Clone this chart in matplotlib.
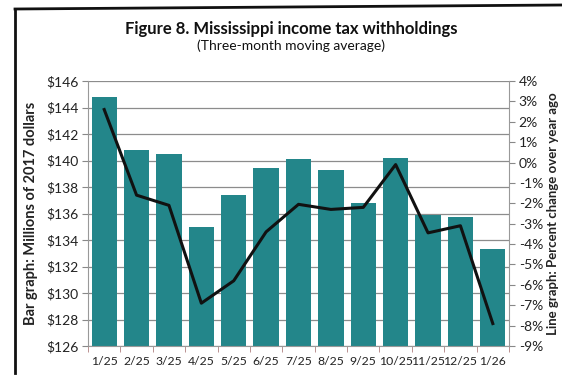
import numpy as np
import matplotlib
matplotlib.use("Agg")
import matplotlib.pyplot as plt
from matplotlib.lines import Line2D
from matplotlib.ticker import FuncFormatter, MultipleLocator

plt.rcParams['font.family'] = ['Lato', 'DejaVu Sans']

# Three-month moving average of withholdings (millions of 2017 dollars)
months = ["1/25", "2/25", "3/25", "4/25", "5/25", "6/25", "7/25",
          "8/25", "9/25", "10/25", "11/25", "12/25", "1/26"]
withholdings = [144.8, 140.8, 140.5, 135.0, 137.4, 139.4, 140.1,
                139.3, 136.8, 140.2, 135.9, 135.7, 133.3]
# Percent change over year ago
pct_change = [2.6, -1.6, -2.1, -6.9, -5.8, -3.4, -2.05,
              -2.3, -2.2, -0.1, -3.45, -3.1, -7.9]

bar_color = "#23868a"
text_color = "#222222"

fig = plt.figure(figsize=(5.62, 3.75), dpi=100)
ax = fig.add_axes([88 / 562, 1 - 346 / 375, 421 / 562, 265 / 375])

x = np.arange(len(months))
ax.bar(x, [v - 126 for v in withholdings], bottom=126, width=0.78,
       color=bar_color, zorder=2)
ax.set_xlim(-0.5, len(months) - 0.5)
ax.set_ylim(126, 146)
ax.yaxis.set_major_locator(MultipleLocator(2))
ax.yaxis.set_major_formatter(FuncFormatter(lambda v, p: f"${v:.0f}"))
ax.grid(axis="y", color="#8c8c8c", linewidth=0.9, zorder=0)
ax.set_axisbelow(True)

ax.set_xticks(x)
ax.set_xticklabels(months, fontsize=8.8, color=text_color)
ax.set_xticks(np.arange(-0.5, len(months)), minor=True)
ax.tick_params(axis="x", which="major", length=0, pad=7)
ax.tick_params(axis="x", which="minor", length=4, color="#b08080")
ax.tick_params(axis="y", length=4, color="#888888", labelsize=10,
               labelcolor=text_color, pad=3)
for s in ["top", "right"]:
    ax.spines[s].set_visible(False)
ax.spines["left"].set_color("#999999")
ax.spines["bottom"].set_color("#999999")
ax.set_ylabel("Bar graph: Millions of 2017 dollars", fontsize=10.5,
              fontweight="bold", color=text_color, labelpad=6)

# Line on the secondary axis
ax2 = ax.twinx()
ax2.plot(x, pct_change, color="#111111", linewidth=2.2, zorder=3)
ax2.set_ylim(-9, 4)
ax2.yaxis.set_major_locator(MultipleLocator(1))
ax2.yaxis.set_major_formatter(FuncFormatter(lambda v, p: f"{v:.0f}%"))
ax2.tick_params(axis="y", length=4, color="#888888", labelsize=10,
                labelcolor=text_color, pad=3)
for s in ["top", "left", "bottom"]:
    ax2.spines[s].set_visible(False)
ax2.spines["right"].set_color("#999999")
ax2.set_ylabel("Line graph: Percent change over year ago", fontsize=9.5,
               fontweight="bold", color=text_color, rotation=90, labelpad=3)

fig.text(0.518, 1 - 29 / 375, "Figure 8. Mississippi income tax withholdings",
         ha="center", va="center", fontsize=12, fontweight="bold", color="#111111")
fig.text(0.518, 1 - 46 / 375, "(Three-month moving average)",
         ha="center", va="center", fontsize=10, color="#111111")

# Outer frame (left and top rules)
fig.add_artist(Line2D([15 / 562, 15 / 562], [1 - 9 / 375, 0.005],
                      color="#111111", linewidth=2))
fig.add_artist(Line2D([15 / 562, 1.0], [1 - 9 / 375, 1 - 5 / 375],
                      color="#111111", linewidth=2))

fig.savefig("out.png", dpi=100)
